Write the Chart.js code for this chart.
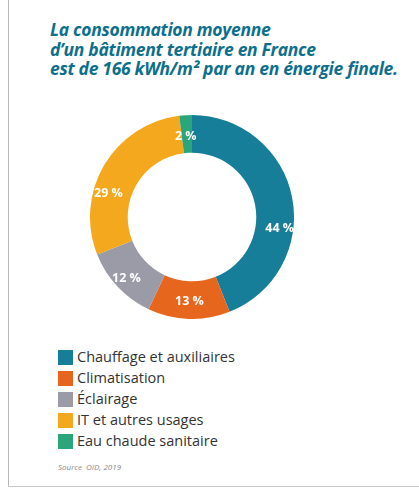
<!DOCTYPE html>
<html>
<head>
<meta charset="utf-8">
<script src="https://cdn.jsdelivr.net/npm/chart.js@4.4.0/dist/chart.umd.min.js"></script>
<style>
  body { margin: 0; background: #fff; }
  #page { position: relative; width: 419px; height: 488px; overflow: hidden; }
  #page:before { content: ""; position: absolute; left: 8px; top: 0; width: 1px; height: 486px; background: #b8b8b8; }
  #page:after { content: ""; position: absolute; left: 8px; top: 486px; width: 411px; height: 1px; background: #c8c8c8; }
  #titre { position: absolute; left: 50px; top: 20px; font-family: "Open Sans", sans-serif; font-style: italic; font-weight: bold; font-size: 17.5px; line-height: 19.5px; color: #0d6f8c; letter-spacing: -0.3px; white-space: nowrap; }
  #wrap { position: absolute; left: 90px; top: 115px; width: 204px; height: 204px; }
  #legende { position: absolute; left: 58px; top: 346px; font-family: "Open Sans", sans-serif; font-size: 14.5px; color: #333; }
  .ligne { height: 21px; line-height: 21px; white-space: nowrap; }
  .carre { display: inline-block; width: 15px; height: 15px; vertical-align: -3px; margin-right: 4px; }
  #source { position: absolute; left: 58px; top: 461px; font-family: "Open Sans", sans-serif; font-style: italic; font-size: 8px; color: #8a8a8a; }
</style>
</head>
<body>
<div id="page">
  <div id="titre">La consommation moyenne<br>d’un bâtiment tertiaire en France<br>est de 166 kWh/m² par an en énergie finale.</div>
  <div id="wrap"><canvas id="myChartConso"></canvas></div>
  <div id="legende"></div>
  <div id="source">Source&nbsp; OID, 2019</div>
</div>
<script>
// DONNEES
const usages = ["Chauffage et auxiliaires", "Climatisation", "Éclairage", "IT et autres usages", "Eau chaude sanitaire"];
const parts = [44, 13, 12, 29, 2];
const couleurs = ["#167e98", "#e7661d", "#9b9ba7", "#f4a81d", "#2aa67a"];
const etiquettes = ["44 %", "13 %", "12 %", "29 %", "2 %"];

// decalage des etiquettes (px) par rapport au milieu de l'arc
const decalX = [6, 0, -5, -12, -1];
const decalY = [27, 1, 5, 19, 2];

const pluginEtiquettes = {
  id: "etiquettes",
  afterDatasetsDraw(chart) {
    const ctx = chart.ctx;
    const meta = chart.getDatasetMeta(0);
    ctx.save();
    ctx.fillStyle = "#fff";
    ctx.font = "bold 12.5px 'Open Sans', sans-serif";
    ctx.textAlign = "center";
    ctx.textBaseline = "middle";
    meta.data.forEach((arc, i) => {
      const p = arc.tooltipPosition();
      ctx.fillText(etiquettes[i], p.x + decalX[i], p.y + decalY[i]);
    });
    ctx.restore();
  },
};

new Chart(document.getElementById("myChartConso"), {
  type: "doughnut",
  data: {
    labels: usages,
    datasets: [
      {
        data: parts,
        backgroundColor: couleurs,
        borderWidth: 0,
      },
    ],
  },
  options: {
    responsive: true,
    maintainAspectRatio: false,
    animation: false,
    cutout: "63%",
    plugins: {
      legend: { display: false },
      tooltip: { enabled: false },
    },
  },
  plugins: [pluginEtiquettes],
});

// LEGENDE
const legende = document.getElementById("legende");
usages.forEach((u, i) => {
  const l = document.createElement("div");
  l.className = "ligne";
  l.innerHTML = `<span class="carre" style="background:${couleurs[i]}"></span>${u}`;
  legende.appendChild(l);
});
</script>
</body>
</html>
